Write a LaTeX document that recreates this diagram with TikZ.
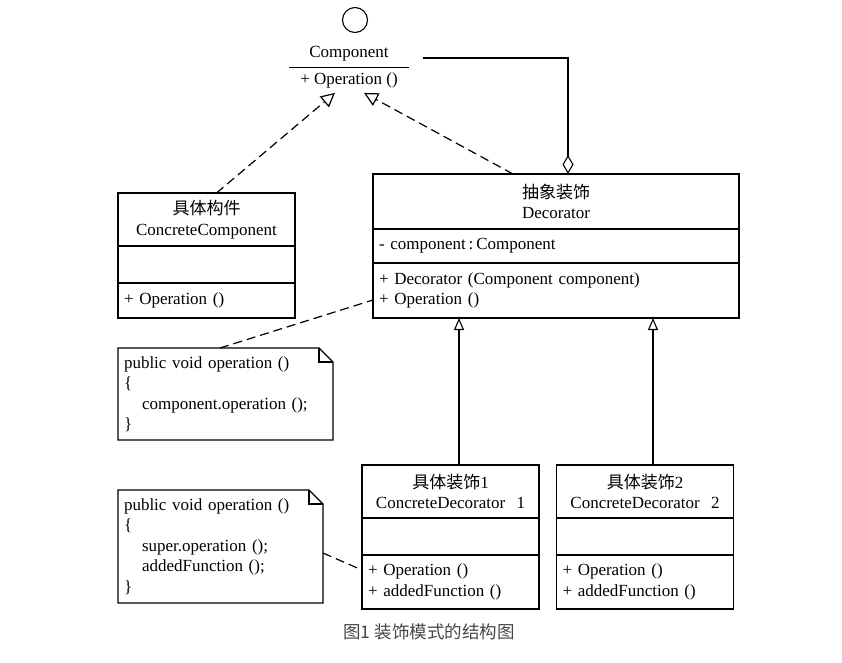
\documentclass[tikz,border=0pt]{standalone}
\usepackage{fontspec}
\setmainfont{Liberation Serif}
\newfontfamily\cjk{Noto Sans CJK SC}
\usetikzlibrary{arrows.meta,positioning}

\tikzstyle{header} = [rectangle, draw, line width=1.1pt, outer sep=0pt,
  inner xsep=6pt, inner ysep=0pt, align=center]
\tikzstyle{members} = [rectangle, draw, line width=1.1pt, outer sep=0pt,
  inner xsep=6pt, inner ysep=0pt, align=left]
\tikzstyle{note} = [rectangle, outer sep=0pt, inner xsep=6pt, inner ysep=0pt, align=left]
\tikzstyle{realize} = [draw, line width=1.2pt, dash pattern=on 9pt off 5pt,
  -{Triangle[open, length=14pt, width=14pt]}]
\tikzstyle{inherit} = [draw, line width=1.1pt, -{Triangle[open, length=12pt, width=10pt]}]
\tikzstyle{aggregate} = [draw, line width=1.1pt, -{Diamond[open, length=19pt, width=11pt]}]
\tikzstyle{attach} = [draw, line width=1.2pt, dash pattern=on 9pt off 5pt]
\definecolor{capgray}{RGB}{70, 70, 70}

\begin{document}
\begin{tikzpicture}[x=1pt, y=-1pt, font=\fontsize{17}{20.5}\selectfont]

  \useasboundingbox (0,0) rectangle (842,662);

  %%%%%%%%%%%%%%%%%%%%%%%%%%%%%%%%%%%%%%%%%%%%%%%%%%%%%%%%%%%%%%
  %                   COMPONENT INTERFACE                      %
  %%%%%%%%%%%%%%%%%%%%%%%%%%%%%%%%%%%%%%%%%%%%%%%%%%%%%%%%%%%%%%

  \node [circle, draw, line width=1.1pt, minimum size=25pt, inner sep=0pt] at (355,20) (iface) {};
  \node [inner sep=0pt] at (349,54) (component-name) {Component};
  \node [minimum width=120pt, inner xsep=0pt, inner ysep=5pt] at (349,80) (component-ops) {+ Operation ()};
  \draw [line width=1.1pt] (component-ops.north west) -- (component-ops.north east);

  %%%%%%%%%%%%%%%%%%%%%%%%%%%%%%%%%%%%%%%%%%%%%%%%%%%%%%%%%%%%%%
  %                   CONCRETE COMPONENT                       %
  %%%%%%%%%%%%%%%%%%%%%%%%%%%%%%%%%%%%%%%%%%%%%%%%%%%%%%%%%%%%%%

  \node [header, text width=165pt, minimum height=53pt] at (206.5,219.5) (concrete-header) {
    {\cjk 具体构件}\\ConcreteComponent
  };
  \node [members, text width=165pt, minimum height=37pt, below=0pt of concrete-header] (concrete-attrs) {};
  \node [members, text width=165pt, minimum height=35pt, below=0pt of concrete-attrs] (concrete-ops) {+ Operation ()};
  \draw [realize] ([xshift=10pt]concrete-header.north) -- ([xshift=-14pt]component-ops.south);

  %%%%%%%%%%%%%%%%%%%%%%%%%%%%%%%%%%%%%%%%%%%%%%%%%%%%%%%%%%%%%%
  %                   ABSTRACT DECORATOR                       %
  %%%%%%%%%%%%%%%%%%%%%%%%%%%%%%%%%%%%%%%%%%%%%%%%%%%%%%%%%%%%%%

  \node [header, text width=354pt, minimum height=55pt] at (556,201.5) (decorator-header) {
    {\cjk 抽象装饰}\\Decorator
  };
  \node [members, text width=354pt, minimum height=34pt, below=0pt of decorator-header] (decorator-attrs) {
    - component\,:\,Component
  };
  \node [members, text width=354pt, minimum height=55pt, below=0pt of decorator-attrs] (decorator-ops) {
    + Decorator (Component component)\\+ Operation ()
  };
  \draw [realize] ([xshift=-43pt]decorator-header.north) -- ([xshift=15pt]component-ops.south);
  \draw [aggregate] ([xshift=34pt, yshift=-4pt]component-name.east) -| ([xshift=12pt]decorator-header.north);

  %%%%%%%%%%%%%%%%%%%%%%%%%%%%%%%%%%%%%%%%%%%%%%%%%%%%%%%%%%%%%%
  %                   CONCRETE DECORATORS                      %
  %%%%%%%%%%%%%%%%%%%%%%%%%%%%%%%%%%%%%%%%%%%%%%%%%%%%%%%%%%%%%%

  \node [header, text width=165pt, minimum height=53pt] at (450.5,491.5) (decorator1-header) {
    {\cjk 具体装饰}1\\ConcreteDecorator\ \ 1
  };
  \node [members, text width=165pt, minimum height=37pt, below=0pt of decorator1-header] (decorator1-attrs) {};
  \node [members, text width=165pt, minimum height=54pt, below=0pt of decorator1-attrs] (decorator1-ops) {
    + Operation ()\\+ addedFunction ()
  };
  \draw [inherit] ([xshift=8.5pt]decorator1-header.north) -- ([xshift=8.5pt]decorator1-header.north |- decorator-ops.south);

  \node [header, text width=165pt, minimum height=53pt] at (645,491.5) (decorator2-header) {
    {\cjk 具体装饰}2\\ConcreteDecorator\ \ 2
  };
  \node [members, text width=165pt, minimum height=37pt, below=0pt of decorator2-header] (decorator2-attrs) {};
  \node [members, text width=165pt, minimum height=54pt, below=0pt of decorator2-attrs] (decorator2-ops) {
    + Operation ()\\+ addedFunction ()
  };
  \draw [inherit] ([xshift=8pt]decorator2-header.north) -- ([xshift=8pt]decorator2-header.north |- decorator-ops.south);

  %%%%%%%%%%%%%%%%%%%%%%%%%%%%%%%%%%%%%%%%%%%%%%%%%%%%%%%%%%%%%%
  %                   NOTES                                    %
  %%%%%%%%%%%%%%%%%%%%%%%%%%%%%%%%%%%%%%%%%%%%%%%%%%%%%%%%%%%%%%

  \node [note, text width=203pt, minimum height=92pt] at (225.5,394) (note-delegate) {
    public void operation ()\\\{\\\hspace*{18pt}component.operation ();\\\}
  };
  \node [note, text width=193pt, minimum height=113pt] at (220.5,546.5) (note-added) {
    public void operation ()\\\{\\\hspace*{18pt}super.operation ();\\\hspace*{18pt}addedFunction ();\\\}
  };
  \foreach \n in {note-delegate, note-added} {
    \draw [line width=1.1pt] (\n.south west) -- (\n.north west) -- ([xshift=-14pt]\n.north east)
      -- ([yshift=-14pt]\n.north east) -- (\n.south east) -- cycle;
    \draw [line width=1.1pt] ([xshift=-14pt]\n.north east) |- ([yshift=-14pt]\n.north east);
  }
  \draw [attach] ([xshift=-5.5pt]note-delegate.north) -- ([yshift=-9.5pt]decorator-ops.west);
  \draw [attach] ([yshift=-6.5pt]note-added.east) -- ([yshift=12pt]decorator1-ops.west);

  % caption
  \node [font=\cjk\fontsize{17.5}{20}\selectfont, text=capgray] at (429,632) (caption) {图1 装饰模式的结构图};

\end{tikzpicture}
\end{document}
